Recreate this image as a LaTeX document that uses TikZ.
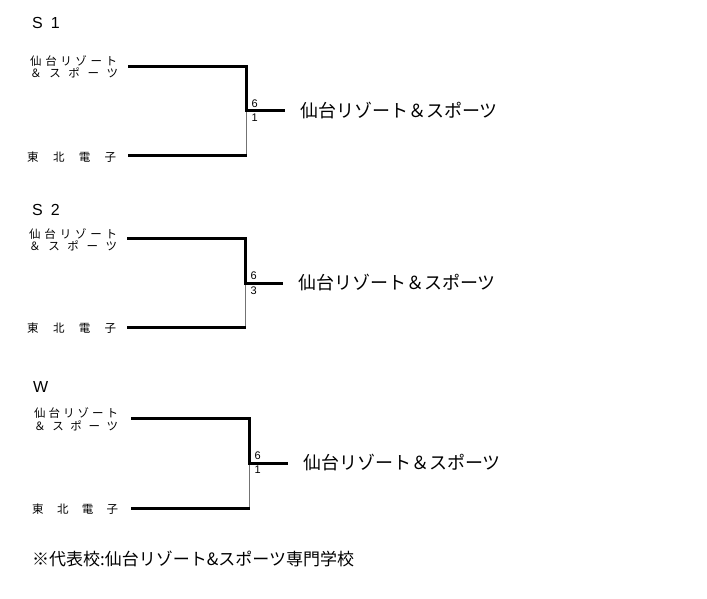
\documentclass[tikz,border=0pt]{standalone}
\usepackage{fontspec}
\setmainfont{Liberation Sans}
\newfontfamily\jp{Noto Sans CJK JP}
\begin{document}
\begin{tikzpicture}[x=1pt,y=-1pt,
  thk/.style={line width=3pt},
  thn/.style={line width=0.9pt,black!55},
  ttl/.style={anchor=west,inner sep=0pt,font=\fontsize{16}{18}\selectfont},
  lbl/.style={anchor=west,inner sep=0pt,font=\jp\fontsize{11.5}{12}\selectfont},
  win/.style={anchor=west,inner sep=0pt,font=\jp\fontsize{18}{20}\selectfont},
  scr/.style={anchor=west,inner sep=0pt,font=\fontsize{11}{12}\selectfont},
  foot/.style={anchor=west,inner sep=0pt,font=\jp\fontsize{17}{19}\selectfont}]
\fill[white] (0,0) rectangle (707,598);
\useasboundingbox (0,0) rectangle (707,598);
% ---------- S1 ----------
\node[ttl] (s1title) at (32,23) {S\hspace{8pt}1};
\node[lbl] (s1a) at (30,61) {\hbox to 87pt{仙\hfill 台\hfill リ\hfill ゾ\hfill ー\hfill ト}};
\node[lbl] (s1b) at (30,73) {\hbox to 88pt{＆\hfill ス\hfill ポ\hfill ー\hfill ツ}};
\node[lbl] (s1c) at (27,157) {\hbox to 89pt{東\hfill 北\hfill 電\hfill 子}};
\coordinate (s1t) at (128,66.5);
\coordinate (s1w) at (246.5,110.5);
\coordinate (s1e) at (285,110.5);
\coordinate (s1l) at (128,155);
\coordinate (s1k) at (246.5,155);
\draw[thn] (s1w) -- (s1k);
\draw[thk] (s1t) -| (s1w) -- (s1e);
\draw[thk] (s1l) -- (s1k);
\node[scr] (s1s1) at (251.5,104) {6};
\node[scr] (s1s2) at (251.5,118) {1};
\node[win] (s1win) at (300,111) {仙台リゾート＆スポーツ};
% ---------- S2 ----------
\node[ttl] (s2title) at (32,210) {S\hspace{8pt}2};
\node[lbl] (s2a) at (29,234) {\hbox to 88pt{仙\hfill 台\hfill リ\hfill ゾ\hfill ー\hfill ト}};
\node[lbl] (s2b) at (29,246) {\hbox to 88pt{＆\hfill ス\hfill ポ\hfill ー\hfill ツ}};
\node[lbl] (s2c) at (27,328) {\hbox to 89pt{東\hfill 北\hfill 電\hfill 子}};
\coordinate (s2t) at (127,238);
\coordinate (s2w) at (245.5,283);
\coordinate (s2e) at (283,283);
\coordinate (s2l) at (127,327);
\coordinate (s2k) at (245.5,327);
\draw[thn] (s2w) -- (s2k);
\draw[thk] (s2t) -| (s2w) -- (s2e);
\draw[thk] (s2l) -- (s2k);
\node[scr] (s2s1) at (250.5,276) {6};
\node[scr] (s2s2) at (250.5,290.5) {3};
\node[win] (s2win) at (298,283) {仙台リゾート＆スポーツ};
% ---------- W ----------
\node[ttl] (wtitle) at (33,387) {W};
\node[lbl] (wa) at (34,413.5) {\hbox to 84pt{仙\hfill 台\hfill リ\hfill ゾ\hfill ー\hfill ト}};
\node[lbl] (wb) at (34,425.5) {\hbox to 84pt{＆\hfill ス\hfill ポ\hfill ー\hfill ツ}};
\node[lbl] (wc) at (32,509) {\hbox to 86pt{東\hfill 北\hfill 電\hfill 子}};
\coordinate (wt) at (131,418);
\coordinate (ww) at (249.5,463);
\coordinate (we) at (288,463);
\coordinate (wl) at (131,508);
\coordinate (wk) at (249.5,508);
\draw[thn] (ww) -- (wk);
\draw[thk] (wt) -| (ww) -- (we);
\draw[thk] (wl) -- (wk);
\node[scr] (ws1) at (254.5,456) {6};
\node[scr] (ws2) at (254.5,470) {1};
\node[win] (wwin) at (303,463) {仙台リゾート＆スポーツ};
% ---------- footer ----------
\node[foot] (footer) at (32,559) {※代表校:仙台リゾート\&スポーツ専門学校};
\end{tikzpicture}
\end{document}
